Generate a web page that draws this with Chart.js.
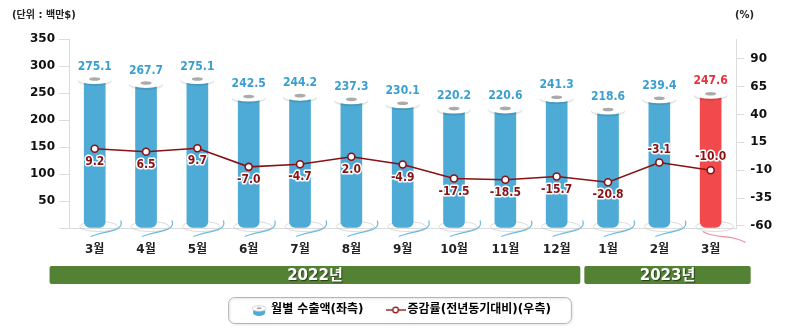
<!DOCTYPE html>
<html><head><meta charset="utf-8">
<script src="https://cdn.jsdelivr.net/npm/chart.js@4.4.1/dist/chart.umd.min.js"></script>
<style>html,body{margin:0;padding:0;background:#fff}</style>
</head><body>
<canvas id="c" width="800" height="330" style="width:800px;height:330px;display:block"></canvas>
<script>
// ---- data ----
const categories = ['3월','4월','5월','6월','7월','8월','9월','10월','11월','12월','1월','2월','3월'];
const exportValues = [275.1, 267.7, 275.1, 242.5, 244.2, 237.3, 230.1, 220.2, 220.6, 241.3, 218.6, 239.4, 247.6];
const growthRates = [9.2, 6.5, 9.7, -7.0, -4.7, 2.0, -4.9, -17.5, -18.5, -15.7, -20.8, -3.1, -10.0];
const yearLabels = ['2022년', '2023년'];
const yearSpans = [10, 3];
const leftTicks = [0, 50, 100, 150, 200, 250, 300, 350];
const rightTicks = [-60, -35, -10, 15, 40, 65, 90];
const seriesNames = ['월별 수출액(좌측)', '증감률(전년동기대비)(우측)'];
const highlightIndex = 12;
const labelsAboveLine = [11, 12];

const KFONT = "'DejaVu Sans','Noto Sans CJK KR',sans-serif";
const NFONT = "'DejaVu Sans Condensed','DejaVu Sans',sans-serif";
const BLUE = '#4eabd5';
const RED = '#f24a4c';
const LINE = '#8b1014';

// legend icons
function makeCup(){
  const c = document.createElement('canvas'); c.width = 18; c.height = 16;
  const x = c.getContext('2d');
  x.fillStyle = BLUE;
  x.beginPath(); x.moveTo(3, 7); x.lineTo(15, 7); x.lineTo(15, 11);
  x.ellipse(9, 11, 6, 3, 0, 0, Math.PI); x.closePath(); x.fill();
  x.fillStyle = '#fff'; x.strokeStyle = '#c9c9c9'; x.lineWidth = 0.8;
  x.beginPath(); x.ellipse(9, 6.5, 7, 2.8, 0, 0, Math.PI*2); x.fill(); x.stroke();
  x.fillStyle = '#a8a8a8';
  x.beginPath(); x.ellipse(9, 6.3, 2.5, 1, 0, 0, Math.PI*2); x.fill();
  return c;
}
function makeLineIcon(){
  const c = document.createElement('canvas'); c.width = 20; c.height = 10;
  const x = c.getContext('2d');
  x.strokeStyle = LINE; x.lineWidth = 1.3;
  x.beginPath(); x.moveTo(0, 5); x.lineTo(20, 5); x.stroke();
  x.fillStyle = '#fff'; x.lineWidth = 1.3;
  x.beginPath(); x.arc(10, 5, 2.8, 0, Math.PI*2); x.fill(); x.stroke();
  return c;
}
const cupIcon = makeCup();
const lineIcon = makeLineIcon();

const decor = {
  id: 'decor',
  beforeDatasetsDraw(chart){
    const ctx = chart.ctx;
    chart.getDatasetMeta(0).data.forEach((bar, i) => {
      const cx = bar.x, by = bar.base;
      const hi = i === highlightIndex;
      ctx.save();
      ctx.strokeStyle = 'rgba(190,190,190,0.55)'; ctx.lineWidth = 1;
      ctx.beginPath(); ctx.ellipse(cx + 4, by - 1, 19, 5, 0, 0, Math.PI*2); ctx.stroke();
      ctx.strokeStyle = hi ? '#f0909a' : '#6bbbe0'; ctx.lineWidth = 1.2;
      ctx.beginPath();
      if (!hi) { ctx.moveTo(cx - 4, by + 9); ctx.bezierCurveTo(cx + 12, by + 3, cx + 30, by + 4, cx + 26, by - 7); }
      else { ctx.moveTo(cx - 8, by + 4); ctx.bezierCurveTo(cx + 6, by + 12, cx + 20, by + 6, cx + 35, by + 15); }
      ctx.stroke();
      ctx.restore();
    });
  },
  afterDatasetDraw(chart, args){
    if (args.index !== 0) return;
    const ctx = chart.ctx;
    args.meta.data.forEach((bar) => {
      const cx = bar.x, y = bar.y;
      ctx.save();
      ctx.fillStyle = 'rgba(0,0,0,0.10)';
      ctx.beginPath(); ctx.ellipse(cx, y + 1.5, 17, 5, 0, 0, Math.PI*2); ctx.fill();
      ctx.fillStyle = '#fff';
      ctx.beginPath(); ctx.ellipse(cx, y, 16.5, 4.5, 0, 0, Math.PI*2); ctx.fill();
      ctx.fillStyle = '#ababab';
      ctx.beginPath(); ctx.ellipse(cx, y - 0.5, 5.5, 1.8, 0, 0, Math.PI*2); ctx.fill();
      ctx.restore();
    });
  },
  afterDatasetsDraw(chart){
    const ctx = chart.ctx;
    ctx.save();
    ctx.textAlign = 'center'; ctx.textBaseline = 'middle';
    ctx.font = 'bold 12px ' + NFONT;
    chart.getDatasetMeta(0).data.forEach((bar, i) => {
      ctx.fillStyle = i === highlightIndex ? '#e8303a' : '#3a9fd0';
      ctx.fillText(exportValues[i].toFixed(1), bar.x, bar.y - 13);
    });
    chart.getDatasetMeta(1).data.forEach((pt, i) => {
      const above = labelsAboveLine.includes(i);
      const ty = pt.y + (above ? -13 : 13);
      const t = growthRates[i].toFixed(1);
      ctx.lineJoin = 'round';
      ctx.strokeStyle = '#fff'; ctx.lineWidth = 3;
      ctx.strokeText(t, pt.x, ty);
      ctx.fillStyle = LINE;
      ctx.fillText(t, pt.x, ty);
    });
    ctx.restore();
  },
  afterDraw(chart){
    const ctx = chart.ctx;
    const xs = chart.scales.x;
    ctx.save();
    // unit labels
    ctx.font = 'bold 10px ' + KFONT; ctx.fillStyle = '#222'; ctx.textBaseline = 'middle';
    ctx.textAlign = 'left';
    ctx.fillText('(단위 : 백만$)', 12, 15);
    ctx.fillText('(%)', 735, 15);
    // year bands
    const w = xs.getPixelForValue(1) - xs.getPixelForValue(0);
    let start = 0;
    yearLabels.forEach((lab, g) => {
      const end = start + yearSpans[g] - 1;
      const left = g === 0 ? xs.getPixelForValue(start) - w * 0.88 : xs.getPixelForValue(start) - w / 2 + 2;
      const right = g === yearLabels.length - 1 ? xs.getPixelForValue(end) + w * 0.78 : xs.getPixelForValue(end) + w / 2 - 2;
      const top = 266, h = 18;
      ctx.fillStyle = '#548235';
      ctx.beginPath(); ctx.roundRect(left, top, right - left, h, 2); ctx.fill();
      ctx.font = 'bold 15px ' + KFONT; ctx.textAlign = 'center';
      ctx.shadowColor = 'rgba(0,0,0,0.55)'; ctx.shadowOffsetX = 1; ctx.shadowOffsetY = 1; ctx.shadowBlur = 1;
      ctx.fillStyle = '#fff';
      ctx.fillText(lab, (left + right) / 2, top + h / 2 + 1);
      ctx.shadowColor = 'transparent';
      start += yearSpans[g];
    });
    // legend frame
    const hb = chart.legend.legendHitBoxes;
    if (hb && hb.length) {
      const l = Math.min(...hb.map(b => b.left)) - 25;
      const r = Math.max(...hb.map(b => b.left + b.width)) + 20;
      const t = Math.min(...hb.map(b => b.top)) - 7;
      const b2 = Math.max(...hb.map(b => b.top + b.height)) + 7;
      ctx.strokeStyle = '#b5b5b5'; ctx.lineWidth = 1;
      ctx.shadowColor = 'rgba(0,0,0,0.15)'; ctx.shadowOffsetY = 1; ctx.shadowBlur = 2;
      ctx.beginPath(); ctx.roundRect(l + 0.5, t + 0.5, r - l, b2 - t, 6); ctx.stroke();
    }
    ctx.restore();
  }
};

new Chart(document.getElementById('c'), {
  data: {
    labels: categories,
    datasets: [
      {
        type: 'bar', label: seriesNames[0], data: exportValues, yAxisID: 'y', order: 1,
        backgroundColor: (c) => c.dataIndex === highlightIndex ? RED : BLUE,
        barThickness: 21,
        borderRadius: { topLeft: 0, topRight: 0, bottomLeft: 6, bottomRight: 6 },
        borderSkipped: false
      },
      {
        type: 'line', label: seriesNames[1], data: growthRates, yAxisID: 'y1', order: 0,
        borderColor: LINE, borderWidth: 1.6, pointRadius: 3.5, pointBorderWidth: 1.6,
        pointBackgroundColor: '#fff', pointBorderColor: LINE, tension: 0
      }
    ]
  },
  options: {
    responsive: false, animation: false,
    layout: { padding: { left: 26, right: 22, top: 39, bottom: 4 } },
    plugins: {
      tooltip: { enabled: false },
      legend: {
        position: 'bottom',
        labels: {
          usePointStyle: true, color: '#222', padding: 26,
          font: { family: KFONT, weight: 'bold', size: 12 },
          generateLabels: () => [
            { text: seriesNames[0], pointStyle: cupIcon, fillStyle: BLUE, strokeStyle: 'transparent', lineWidth: 0, hidden: false, datasetIndex: 0 },
            { text: seriesNames[1], pointStyle: lineIcon, fillStyle: '#fff', strokeStyle: LINE, lineWidth: 0, hidden: false, datasetIndex: 1 }
          ]
        }
      }
    },
    scales: {
      x: {
        offset: true,
        grid: { display: false, drawTicks: false },
        border: { color: '#dcdcdc' },
        ticks: { color: '#222', padding: 15, font: { family: KFONT, weight: 'bold', size: 12 } },
        afterFit: (s) => { s.height = 50; }
      },
      y: {
        position: 'left', min: 0, max: 350,
        afterBuildTicks: (a) => { a.ticks = leftTicks.map(v => ({ value: v })); },
        grid: { drawOnChartArea: false, tickLength: 10, color: '#dcdcdc' },
        border: { color: '#dcdcdc' },
        ticks: { color: '#111', padding: 4, font: { family: "'DejaVu Sans',sans-serif", weight: 'bold', size: 12 },
          callback: (v) => v === 0 ? '' : v }
      },
      y1: {
        position: 'right', min: -61.8, max: 107.6,
        afterBuildTicks: (a) => { a.ticks = rightTicks.map(v => ({ value: v })); },
        grid: { drawOnChartArea: false, tickLength: 8, color: '#dcdcdc' },
        border: { color: '#dcdcdc' },
        ticks: { color: '#111', padding: 6, font: { family: "'DejaVu Sans',sans-serif", weight: 'bold', size: 12 } }
      }
    }
  },
  plugins: [decor]
});
</script>
</body></html>
